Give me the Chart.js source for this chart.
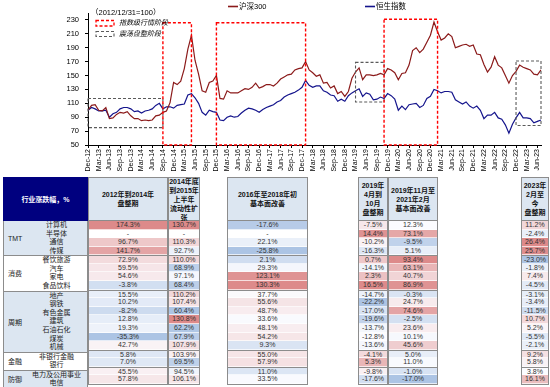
<!DOCTYPE html>
<html lang="zh-CN">
<head>
<meta charset="UTF-8">
<title>沪深300与恒生指数走势及行业涨跌幅</title>
<script src="https://cdn.jsdelivr.net/npm/chart.js"></script>
<style>
  body { margin: 0; width: 550px; height: 387px; background: #fff; position: relative; overflow: hidden;
         font-family: "Liberation Sans", "Noto Sans CJK SC", sans-serif; }
  .chart-box { position: absolute; left: 0; top: 0; width: 550px; height: 176px; }
  .note { position: absolute; left: 91px; top: 8px; font-size: 7.5px; line-height: 10px; color: #000; white-space: nowrap; }
  .blk { position: absolute; top: 177px; box-sizing: border-box; }
  .hd { height: 44px; box-sizing: border-box; border: 1px solid #8c8c8c; background: #dce6f1;
        display: flex; align-items: center; justify-content: center; text-align: center;
        font-weight: bold; font-size: 7px; line-height: 9px; color: #111; }
  .hd.main { background: #00007f; color: #fff; border-color: #00007f; }
  .rows { border-left: 1px solid #8c8c8c; border-right: 1px solid #8c8c8c; border-bottom: 1px solid #8c8c8c; }
  .cell { height: 8.58px; line-height: 8.58px; text-align: center; font-size: 7px; color: #333;
          box-sizing: border-box; border-bottom: 1px solid rgba(255,255,255,0.7); white-space: nowrap; }
  .cell.sep { border-top: 1px solid #8c8c8c; }
  .grp { position: relative; box-sizing: border-box; }
  .grp.sep { border-top: 1px solid #8c8c8c; }
  .grp-name { position: absolute; left: 4px; top: 50%; transform: translateY(-50%); font-size: 7px; color: #222; }
  .sec { height: 8.58px; line-height: 8.58px; font-size: 7px; color: #222; padding-left: 22px; text-align: center; }
</style>
</head>
<body>

<div class="chart-box"><canvas id="idx"></canvas></div>
<div class="note">（2012/12/31=100）</div>
<div id="table"></div>

<script>
// 指数走势（2012/12/31=100），月度
const hs300 = [
  100,
  107, 108, 100, 99, 104, 88, 89, 94, 97, 96, 98, 92,
  88, 88, 85, 86, 85, 86, 92, 93, 97, 99, 111, 140,
  137, 142, 160, 188, 208, 172, 152, 128, 126, 140, 142, 150,
  117, 116, 128, 125, 125, 125, 128, 131, 130, 133, 139, 132,
  134, 137, 137, 135, 139, 145, 148, 151, 152, 158, 160, 161,
  170, 158, 154, 149, 151, 139, 140, 132, 135, 124, 127, 120,
  127, 146, 155, 161, 144, 151, 151, 150, 151, 153, 151, 160,
  158, 154, 144, 153, 154, 165, 186, 190, 183, 188, 198, 208,
  227, 213, 201, 204, 210, 206, 190, 192, 194, 195, 192, 194,
  181, 180, 166, 155, 162, 177, 165, 161, 150, 139, 150, 156,
  165, 162, 160, 158, 152, 151, 158
];
const hsi = [
  100,
  104, 102, 99, 99, 100, 90, 95, 97, 102, 104, 104, 102,
  98, 99, 96, 99, 100, 102, 107, 110, 102, 105, 105, 103,
  107, 108, 109, 122, 124, 118, 110, 97, 93, 100, 98, 97,
  86, 85, 90, 92, 90, 91, 96, 100, 103, 102, 100, 97,
  101, 104, 106, 108, 112, 114, 119, 122, 124, 126, 129, 133,
  143, 136, 133, 135, 135, 128, 126, 122, 121, 113, 116, 113,
  121, 125, 128, 131, 120, 125, 123, 115, 116, 119, 117, 124,
  121, 116, 100, 106, 101, 108, 109, 110, 104, 107, 117, 120,
  130, 128, 125, 127, 127, 126, 115, 112, 109, 112, 106, 103,
  106, 100, 88, 93, 93, 97, 89, 87, 79, 67, 80, 89,
  97, 89, 89, 88, 82, 84, 86
];
const seriesNames = ['沪深300', '恒生指数'];
const yTicks = [50, 70, 90, 110, 130, 150, 170, 190, 210, 230];

// 阶段划分
const phases = [
  { kind: 'range', from: 'Dec-12', to: 'Sep-14', low: 75, high: 117 },
  { kind: 'trend', from: 'Sep-14', to: 'May-15', low: 50, high: 226 },
  { kind: 'trend', from: 'Dec-15', to: 'Jan-18', low: 50, high: 226 },
  { kind: 'range', from: 'Mar-19', to: 'Nov-19', low: 112, high: 169 },
  { kind: 'trend', from: 'Nov-19', to: 'Feb-21', low: 50, high: 231 },
  { kind: 'range', from: 'Dec-22', to: 'Jul-23', low: 78, high: 171 }
];

// 行业涨跌幅表
const groups = [['TMT', 4], ['消费', 4], ['周期', 7], ['金融', 2], ['防御', 2]];
const sectors = ['计算机', '半导体', '通信', '传媒', '餐饮旅游', '汽车', '家电', '食品饮料',
  '地产', '钢铁', '有色金属', '建筑', '石油石化', '煤炭', '机械', '非银行金融', '银行', '电力及公用事业', '电信'];
const periodTitles = [
  '2012年到2014年<br>盘整期',
  '2014年底<br>到2015年<br>上半年<br>流动性扩<br>张',
  '2016年至2018年初<br>基本面改善',
  '2019年<br>4月到<br>10月<br>盘整期',
  '2019年11月至<br>2021年2月<br>基本面改善',
  '2023年<br>2月至<br>今<br>盘整期'
];
const p1 = [174.3, null, 96.7, 141.7, 72.9, 59.5, 54.6, -3.8, 15.5, 10.2, -8.2, 12.8, 19.3, -35.3, 42.7, 5.8, 7.0, 45.5, 57.8];
const p2 = [130.7, null, 110.3, 92.7, 110.0, 68.9, 97.1, 68.4, 110.2, 107.4, 60.4, 130.8, 62.2, 67.9, 107.9, 103.9, 69.5, 94.5, 106.1];
const p3 = [-17.6, null, 22.1, -25.8, 2.1, 29.3, 123.1, 130.3, 37.7, 55.6, 48.7, 33.6, 48.1, 54.2, 9.3, 55.0, 57.9, 11.0, 33.5];
const p4 = [-7.5, 14.4, -10.2, -16.3, 0.7, -14.1, 2.3, 16.5, -14.7, -22.2, -17.0, -19.6, -13.7, -12.8, -13.6, -4.1, 5.3, -9.8, -17.6];
const p5 = [12.3, 73.1, -9.5, 5.1, 93.4, 63.1, 40.7, 86.9, -0.3, 24.7, 74.6, -2.5, 23.6, 10.1, 45.6, 5.0, 11.0, -1.0, -17.0];
const p6 = [11.2, -2.4, 26.4, 25.7, -23.0, -1.8, 7.4, -4.5, -3.1, -3.4, -11.5, 10.7, 5.2, -5.5, -2.1, 9.2, 5.8, 3.8, 16.1];

// month labels Dec-12 ... Jul-23
const MON = ['Jan', 'Feb', 'Mar', 'Apr', 'May', 'Jun', 'Jul', 'Aug', 'Sep', 'Oct', 'Nov', 'Dec'];
const months = hs300.map((_, i) => {
  const t = 11 + i;
  return MON[t % 12] + '-' + String(12 + Math.floor(t / 12));
});

const FONT = '"Liberation Sans", "Noto Sans CJK SC", sans-serif';

const phasePlugin = {
  id: 'phases',
  afterDatasetsDraw(chart) {
    const { ctx, scales: { x, y } } = chart;
    ctx.save();
    ctx.setLineDash([3, 2]);
    phases.forEach(p => {
      const x0 = x.getPixelForValue(months.indexOf(p.from));
      const x1 = x.getPixelForValue(months.indexOf(p.to));
      const y0 = y.getPixelForValue(p.high);
      const y1 = y.getPixelForValue(p.low);
      ctx.strokeStyle = p.kind === 'trend' ? '#ff0000' : '#5a5a5a';
      ctx.lineWidth = p.kind === 'trend' ? 1.4 : 1.1;
      ctx.strokeRect(x0, y0, x1 - x0, y1 - y0);
    });
    ctx.restore();
  },
  afterDraw(chart) {
    const ctx = chart.ctx;
    ctx.save();
    ctx.textBaseline = 'middle';
    ctx.fillStyle = '#000';

    // phase legend
    ctx.setLineDash([3, 2]);
    ctx.lineWidth = 1.3;
    ctx.strokeStyle = '#ff0000';
    ctx.strokeRect(96, 20.5, 18, 5.5);
    ctx.strokeStyle = '#5a5a5a';
    ctx.lineWidth = 1.1;
    ctx.strokeRect(96, 31.5, 18, 5);
    ctx.setLineDash([]);
    ctx.font = 'italic 7px ' + FONT;
    ctx.fillText('指数级行情阶段', 119, 23.5);
    ctx.fillText('震荡盘整阶段', 119, 34.5);

    // series legend
    const lx = [228, 365];
    ctx.font = '7.5px ' + FONT;
    chart.data.datasets.forEach((ds, i) => {
      ctx.strokeStyle = ds.borderColor;
      ctx.lineWidth = 1.6;
      ctx.beginPath();
      ctx.moveTo(lx[i], 6.5);
      ctx.lineTo(lx[i] + 10, 6.5);
      ctx.stroke();
      ctx.fillStyle = '#000';
      ctx.fillText(ds.label, lx[i] + 11, 7);
    });
    ctx.restore();
  }
};

new Chart(document.getElementById('idx'), {
  type: 'line',
  data: {
    labels: months,
    datasets: [
      { label: seriesNames[0], data: hs300, borderColor: '#8b1a1a', borderWidth: 1.2, pointRadius: 0, tension: 0 },
      { label: seriesNames[1], data: hsi, borderColor: '#14148c', borderWidth: 1.2, pointRadius: 0, tension: 0 }
    ]
  },
  options: {
    responsive: true,
    maintainAspectRatio: false,
    animation: false,
    layout: { padding: { top: 13, right: 9, left: 0, bottom: 0 } },
    plugins: { legend: { display: false }, tooltip: { enabled: false } },
    scales: {
      x: {
        type: 'category',
        offset: false,
        afterFit: s => { s.height = 31; },
        grid: { drawOnChartArea: false, tickLength: 3, color: '#000' },
        border: { color: '#000' },
        ticks: {
          autoSkip: false, minRotation: 90, maxRotation: 90, padding: 1,
          color: '#000', font: { size: 7, family: FONT },
          callback: (v, i) => (i % 3 === 0 ? months[i] : null)
        }
      },
      y: {
        min: 50, max: 240,
        afterFit: s => { s.width = 88; },
        afterBuildTicks: s => { s.ticks = yTicks.map(v => ({ value: v })); },
        grid: { drawOnChartArea: false, tickLength: 3, color: '#000' },
        border: { color: '#000' },
        ticks: { color: '#000', padding: 6, font: { size: 7.5, family: FONT } }
      }
    }
  },
  plugins: [phasePlugin]
});

// ---- table ----
function heat(v, vals) {
  if (v === null) return '#ffffff';
  const s = vals.filter(n => n !== null).sort((a, b) => a - b);
  const lo = s[0], hi = s[s.length - 1];
  const mid = s.length % 2 ? s[(s.length - 1) / 2] : (s[s.length / 2 - 1] + s[s.length / 2]) / 2;
  const white = [252, 252, 255], red = [221, 138, 138], blue = [172, 196, 228];
  let t, c;
  if (v >= mid) { t = (v - mid) / (hi - mid); c = red; } else { t = (mid - v) / (mid - lo); c = blue; }
  const rgb = white.map((w, k) => Math.round(w + (c[k] - w) * t));
  return `rgb(${rgb.join(',')})`;
}

const groupStarts = [];
let acc = 0;
groups.forEach(g => { groupStarts.push(acc); acc += g[1]; });

const table = document.getElementById('table');

// label block
const lab = document.createElement('div');
lab.className = 'blk';
lab.style.left = '3px';
lab.style.width = '85px';
let html = '<div class="hd main">行业涨跌幅，%</div><div class="rows">';
let k = 0;
groups.forEach((g, gi) => {
  const bg = gi % 2 === 0 ? '#dce6f1' : '#ffffff';
  html += `<div class="grp${gi ? ' sep' : ''}" style="background:${bg}"><span class="grp-name">${g[0]}</span>`;
  for (let r = 0; r < g[1]; r++) html += `<div class="sec">${sectors[k++]}</div>`;
  html += '</div>';
});
html += '</div>';
lab.innerHTML = html;
table.appendChild(lab);

// period columns
const periods = [p1, p2, p3, p4, p5, p6];
const colPos = [[88, 80], [168, 32], [227, 81], [358, 30], [388, 50], [521, 28]];
periods.forEach((vals, ci) => {
  const d = document.createElement('div');
  d.className = 'blk';
  d.style.left = colPos[ci][0] + 'px';
  d.style.width = colPos[ci][1] + 'px';
  let h = `<div class="hd">${periodTitles[ci]}</div><div class="rows">`;
  vals.forEach((v, r) => {
    const sep = r > 0 && groupStarts.includes(r) ? ' sep' : '';
    const txt = v === null ? '-' : v.toFixed(1) + '%';
    h += `<div class="cell${sep}" style="background:${heat(v, vals)}">${txt}</div>`;
  });
  h += '</div>';
  d.innerHTML = h;
  table.appendChild(d);
});
</script>

</body>
</html>
